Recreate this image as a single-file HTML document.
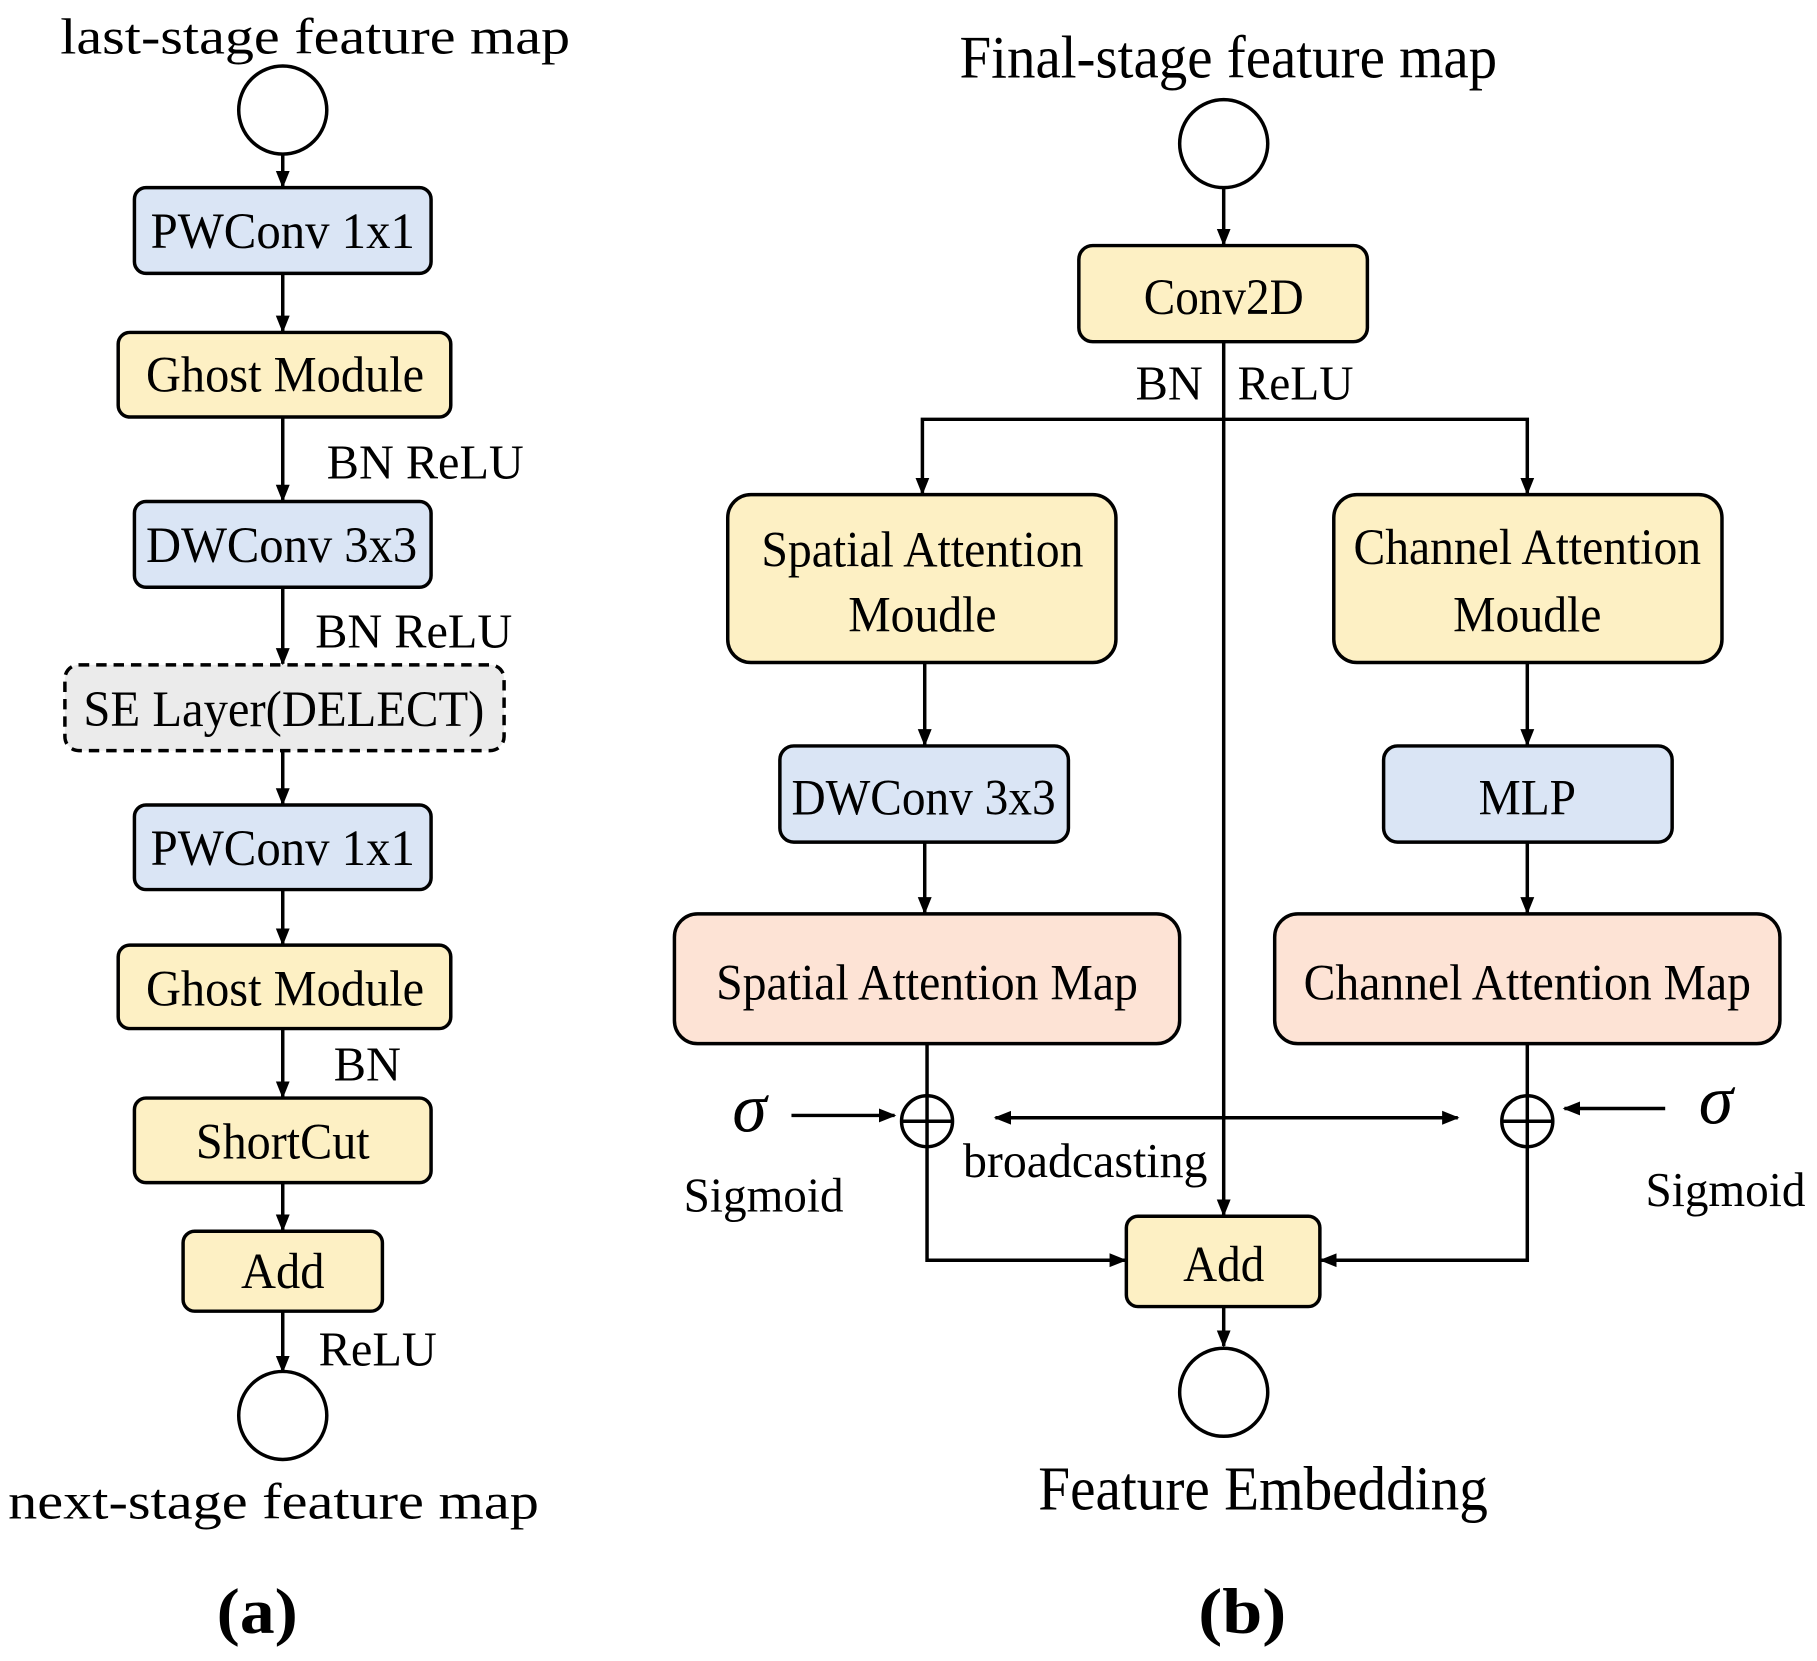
<!DOCTYPE html>
<html><head><meta charset="utf-8"><style>html,body{margin:0;padding:0;background:#fff}svg{display:block}</style></head>
<body>
<svg width="1817" height="1661" viewBox="0 0 1568 1434" preserveAspectRatio="none" xmlns="http://www.w3.org/2000/svg" font-family="Liberation Serif, serif" fill="#000">
<defs>
<marker id="a" viewBox="0 0 10 10" refX="9" refY="5" markerWidth="5" markerHeight="5" orient="auto-start-reverse"><path d="M0,1 L10,5 L0,9 z" fill="#000"/></marker>
</defs>
<g stroke="#000" stroke-width="3" fill="none">
<circle cx="244" cy="95" r="38"/>
<line x1="244" y1="133" x2="244" y2="161" marker-end="url(#a)"/>
<line x1="244" y1="236" x2="244" y2="286" marker-end="url(#a)"/>
<line x1="244" y1="360" x2="244" y2="432" marker-end="url(#a)"/>
<line x1="244" y1="507" x2="244" y2="573" marker-end="url(#a)"/>
<line x1="244" y1="648" x2="244" y2="694" marker-end="url(#a)"/>
<line x1="244" y1="768" x2="244" y2="815" marker-end="url(#a)"/>
<line x1="244" y1="888" x2="244" y2="947" marker-end="url(#a)"/>
<line x1="244" y1="1021" x2="244" y2="1062" marker-end="url(#a)"/>
<line x1="244" y1="1132" x2="244" y2="1184" marker-end="url(#a)"/>
<circle cx="244" cy="1222" r="38"/>
<rect x="116" y="162" width="256" height="74" rx="10" fill="#dae5f5"/>
<rect x="102" y="287" width="287" height="73" rx="10" fill="#fdf0c4"/>
<rect x="116" y="433" width="256" height="74" rx="10" fill="#dae5f5"/>
<rect x="56" y="574" width="379" height="74" rx="12" fill="#ebebeb" stroke-dasharray="9,6"/>
<rect x="116" y="695" width="256" height="73" rx="10" fill="#dae5f5"/>
<rect x="102" y="816" width="287" height="72" rx="10" fill="#fdf0c4"/>
<rect x="116" y="948" width="256" height="73" rx="10" fill="#fdf0c4"/>
<rect x="158" y="1063" width="172" height="69" rx="10" fill="#fdf0c4"/>
<circle cx="1056" cy="124" r="38"/>
<line x1="1056" y1="162" x2="1056" y2="211" marker-end="url(#a)"/>
<line x1="1056" y1="295" x2="1056" y2="1049" marker-end="url(#a)"/>
<polyline points="796,426 796,362 1318,362 1318,426" marker-start="url(#a)" marker-end="url(#a)"/>
<line x1="798" y1="572" x2="798" y2="643" marker-end="url(#a)"/>
<line x1="1318" y1="572" x2="1318" y2="643" marker-end="url(#a)"/>
<line x1="798" y1="727" x2="798" y2="788" marker-end="url(#a)"/>
<line x1="1318" y1="727" x2="1318" y2="788" marker-end="url(#a)"/>
<rect x="931" y="212" width="249" height="83" rx="12" fill="#fdf0c4"/>
<rect x="628" y="427" width="335" height="145" rx="20" fill="#fdf0c4"/>
<rect x="1151" y="427" width="335" height="145" rx="20" fill="#fdf0c4"/>
<rect x="673" y="644" width="249" height="83" rx="12" fill="#dae5f5"/>
<rect x="1194" y="644" width="249" height="83" rx="12" fill="#dae5f5"/>
<rect x="582" y="789" width="436" height="112" rx="20" fill="#fde3d5"/>
<rect x="1100" y="789" width="436" height="112" rx="20" fill="#fde3d5"/>
<line x1="800" y1="901" x2="800" y2="946"/>
<line x1="1318" y1="901" x2="1318" y2="946"/>
<circle cx="800" cy="968" r="22"/><line x1="778" y1="968" x2="822" y2="968"/><line x1="800" y1="946" x2="800" y2="990"/>
<circle cx="1318" cy="968" r="22"/><line x1="1296" y1="968" x2="1340" y2="968"/><line x1="1318" y1="946" x2="1318" y2="990"/>
<polyline points="800,990 800,1088 971,1088" marker-end="url(#a)"/>
<polyline points="1318,990 1318,1088 1140,1088" marker-end="url(#a)"/>
<line x1="683" y1="963" x2="772" y2="963" marker-end="url(#a)"/>
<line x1="1437" y1="957" x2="1350" y2="957" marker-end="url(#a)"/>
<line x1="859" y1="965" x2="1258" y2="965" marker-start="url(#a)" marker-end="url(#a)"/>
<rect x="972" y="1050" width="167" height="78" rx="10" fill="#fdf0c4"/>
<line x1="1056" y1="1128" x2="1056" y2="1162" marker-end="url(#a)"/>
<circle cx="1056" cy="1202" r="38"/>
</g>
<g font-size="44" text-anchor="middle">
<text x="272" y="46" textLength="440" lengthAdjust="spacingAndGlyphs">last-stage feature map</text>
<text x="244" y="214" textLength="228" lengthAdjust="spacingAndGlyphs">PWConv 1x1</text>
<text x="246" y="338" textLength="240" lengthAdjust="spacingAndGlyphs">Ghost Module</text>
<text x="243" y="485" textLength="234" lengthAdjust="spacingAndGlyphs">DWConv 3x3</text>
<text x="245" y="627" textLength="346" lengthAdjust="spacingAndGlyphs">SE Layer(DELECT)</text>
<text x="244" y="747" textLength="228" lengthAdjust="spacingAndGlyphs">PWConv 1x1</text>
<text x="246" y="868" textLength="240" lengthAdjust="spacingAndGlyphs">Ghost Module</text>
<text x="244" y="1000" textLength="150" lengthAdjust="spacingAndGlyphs">ShortCut</text>
<text x="244" y="1112" textLength="72" lengthAdjust="spacingAndGlyphs">Add</text>
<text x="236" y="1311" textLength="458" lengthAdjust="spacingAndGlyphs">next-stage feature map</text>
<text x="222" y="1410" font-size="56" font-weight="bold" textLength="70" lengthAdjust="spacingAndGlyphs">(a)</text>
<text x="1060" y="67" font-size="52" textLength="464" lengthAdjust="spacingAndGlyphs">Final-stage feature map</text>
<text x="1056" y="271" textLength="138" lengthAdjust="spacingAndGlyphs">Conv2D</text>
<text x="796" y="489" textLength="278" lengthAdjust="spacingAndGlyphs">Spatial Attention</text>
<text x="796" y="545" textLength="128" lengthAdjust="spacingAndGlyphs">Moudle</text>
<text x="1318" y="487" textLength="300" lengthAdjust="spacingAndGlyphs">Channel Attention</text>
<text x="1318" y="545" textLength="128" lengthAdjust="spacingAndGlyphs">Moudle</text>
<text x="797" y="703" textLength="228" lengthAdjust="spacingAndGlyphs">DWConv 3x3</text>
<text x="1318" y="703" textLength="84" lengthAdjust="spacingAndGlyphs">MLP</text>
<text x="800" y="863" textLength="364" lengthAdjust="spacingAndGlyphs">Spatial Attention Map</text>
<text x="1318" y="863" textLength="386" lengthAdjust="spacingAndGlyphs">Channel Attention Map</text>
<text x="1056" y="1106" textLength="70" lengthAdjust="spacingAndGlyphs">Add</text>
<text x="1090" y="1303" font-size="54" textLength="388" lengthAdjust="spacingAndGlyphs">Feature Embedding</text>
<text x="1072" y="1410" font-size="56" font-weight="bold" textLength="76" lengthAdjust="spacingAndGlyphs">(b)</text>
</g>
<g font-size="42">
<text x="282" y="413" textLength="170" lengthAdjust="spacingAndGlyphs">BN ReLU</text>
<text x="272" y="559" textLength="170" lengthAdjust="spacingAndGlyphs">BN ReLU</text>
<text x="288" y="933" textLength="58" lengthAdjust="spacingAndGlyphs">BN</text>
<text x="275" y="1179" textLength="102" lengthAdjust="spacingAndGlyphs">ReLU</text>
<text x="980" y="345" textLength="58" lengthAdjust="spacingAndGlyphs">BN</text>
<text x="1068" y="345" textLength="100" lengthAdjust="spacingAndGlyphs">ReLU</text>
<text x="831" y="1016" textLength="211" lengthAdjust="spacingAndGlyphs">broadcasting</text>
<text x="590" y="1046" textLength="138" lengthAdjust="spacingAndGlyphs">Sigmoid</text>
<text x="1420" y="1041" textLength="138" lengthAdjust="spacingAndGlyphs">Sigmoid</text>
<text x="632" y="977" font-size="60" font-style="italic">σ</text>
<text x="1466" y="970" font-size="60" font-style="italic">σ</text>
</g>
</svg>
</body></html>
